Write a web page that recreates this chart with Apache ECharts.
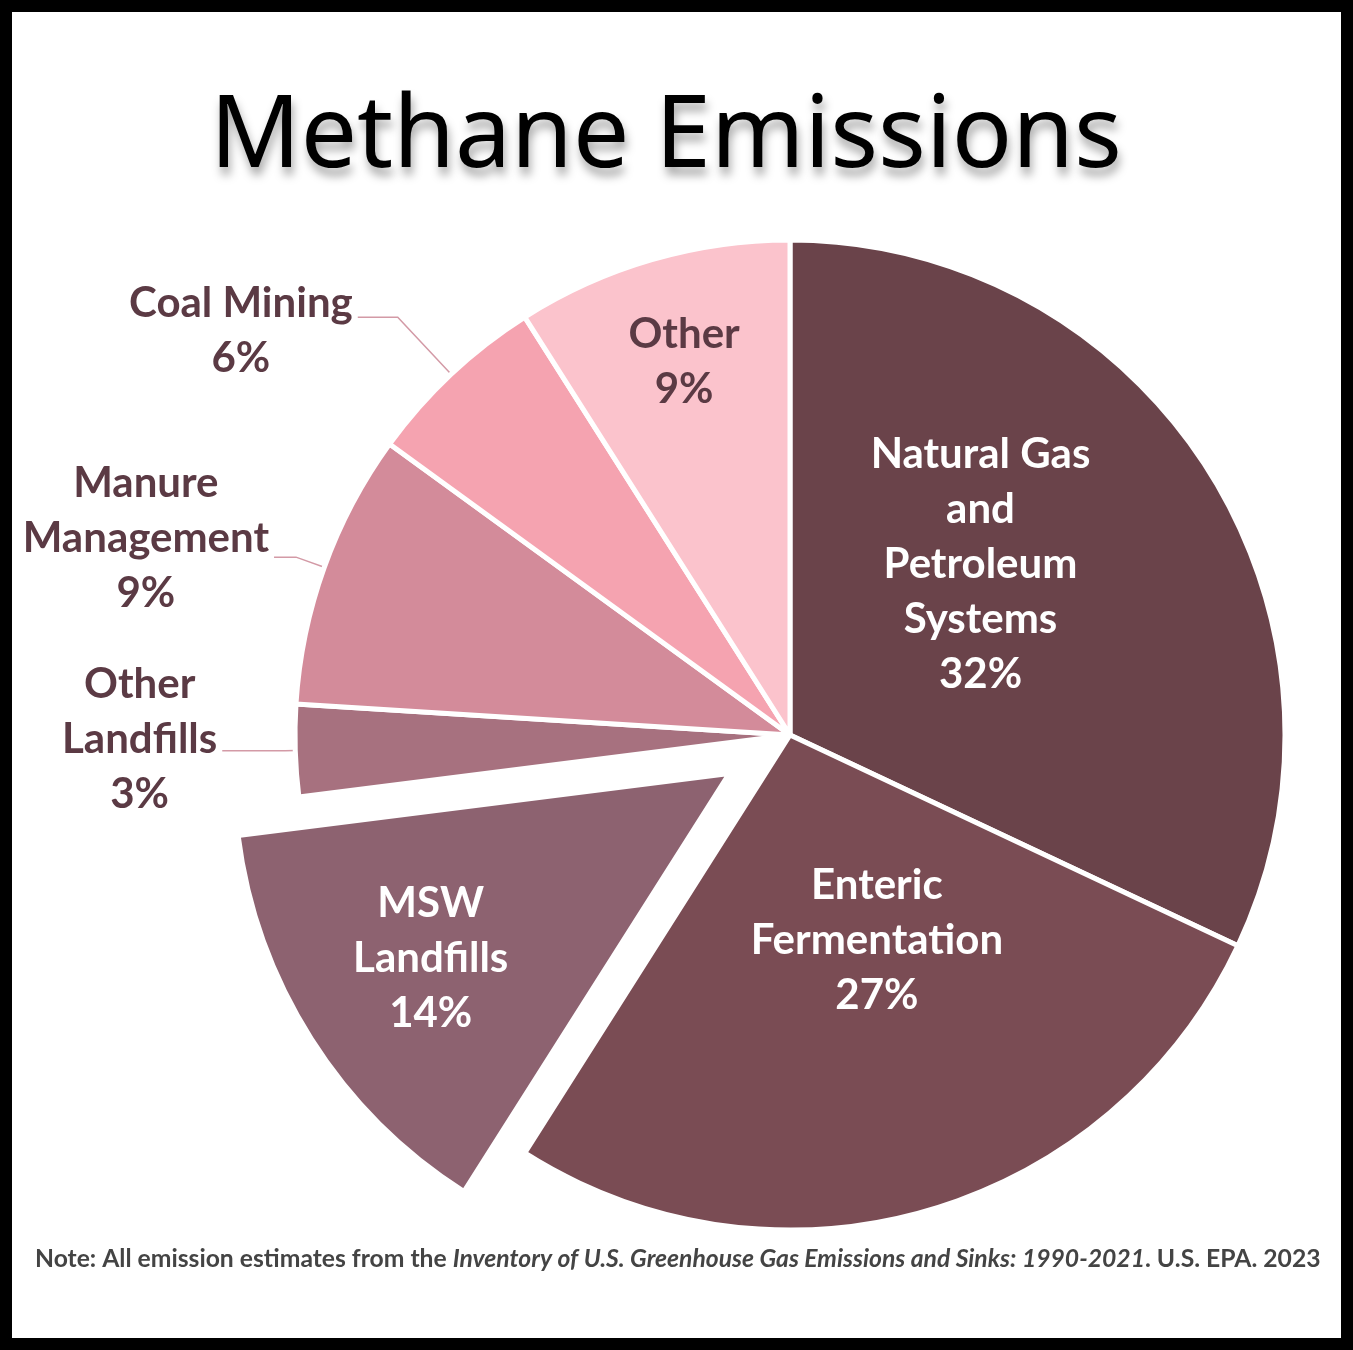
<!DOCTYPE html>
<html><head><meta charset="utf-8">
<script src="https://cdn.jsdelivr.net/npm/echarts@6/dist/echarts.min.js"></script>
<style>html,body{margin:0;padding:0;background:#fff}#c{width:1353px;height:1350px}</style>
</head><body><div id="c"></div>
<script>
const categories = ['Natural Gas and Petroleum Systems','Enteric Fermentation','MSW Landfills','Other Landfills','Manure Management','Coal Mining','Other'];
const labelNames = ['Natural Gas\nand\nPetroleum\nSystems','Enteric\nFermentation','MSW\nLandfills','Other\nLandfills','Manure\nManagement','Coal Mining','Other'];
const values = [32,27,14,3,9,6,9];
const colors = ['#6a434a','#7a4c54','#8d6270','#a7717f','#d38b9a','#f5a3b0','#fbc3cc'];
const titleText = 'Methane Emissions';
const noteParts = ['Note: All emission estimates from the ','Inventory of U.S. Greenhouse Gas Emissions and Sinks: 1990-2021','. U.S. EPA. 2023'];

// label styling / layout (not data)
const insideIdx = [0,1,2,6];
const labelColor = ['#ffffff','#ffffff','#ffffff','#5b3a44','#5b3a44','#5b3a44','#5b3a44'];
const insideShift = {0:[-21,-36],1:[17,-35],2:[-87,51],6:[-36,-132]};
const outsideCfg = {
  3:{len:10,len2:63,pad:[0,0,22,0]},
  4:{len:30,len2:22,pad:[0,0,38,0]},
  5:{len:78,len2:40,pad:[28,0,0,0]}
};

const data = categories.map((name,i)=>{
  const inside = insideIdx.indexOf(i) >= 0;
  const item = {name, value: values[i], itemStyle:{color: colors[i]}};
  if (inside) {
    item.label = {position:'inside', color: labelColor[i]};
    item.labelLine = {show:false};
  } else {
    const c = outsideCfg[i];
    item.label = {position:'outside', color: labelColor[i], padding: c.pad};
    item.labelLine = {show:true, length:c.len, length2:c.len2};
  }
  if (i === 2) item.selected = true;
  return item;
});

const chart = echarts.init(document.getElementById('c'), null, {renderer:'canvas'});
chart.setOption({
  backgroundColor:'#ffffff',
  animation:false,
  title:[{
    text: titleText,
    left: 210, top: 89, padding:0,
    textStyle:{fontFamily:'Noto Sans', fontWeight:'normal', fontSize:100, color:'#000',
      textShadowColor:'rgba(0,0,0,0.35)', textShadowBlur:10, textShadowOffsetX:2, textShadowOffsetY:8}
  },{
    text: '{n|'+noteParts[0]+'}{i|'+noteParts[1]+'}{n|'+noteParts[2]+'}',
    left: 35, top: 1247, padding:0,
    textStyle:{fontFamily:'Lato', fontSize:24.7, color:'#444',
      rich:{n:{fontFamily:'Lato', fontSize:24.7, color:'#444'}, i:{fontFamily:'Lato', fontSize:24.7, fontStyle:'italic', color:'#444'}}}
  }],
  graphic:[{type:'rect', z:100, silent:true, shape:{x:0,y:0,width:1353,height:1350},
    style:{fill:'none', stroke:'#000', lineWidth:24}}],
  series:[{
    type:'pie',
    center:[790,735],
    radius:[0,495],
    startAngle:90,
    clockwise:true,
    avoidLabelOverlap:false,
    selectedMode:'single',
    selectedOffset:72,
    emphasis:{disabled:true},
    itemStyle:{borderColor:'#ffffff', borderWidth:5},
    label:{
      show:true,
      fontFamily:'Lato', fontWeight:'bold', fontSize:42, lineHeight:55,
      formatter:p => labelNames[p.dataIndex].split('\n').map(s=>'{c|'+s+'}').join('\n') + '\n{c|' + p.value + '%}',
      rich:{c:{align:'center', fontFamily:'Lato', fontWeight:'bold', fontSize:42, lineHeight:55}}
    },
    labelLine:{smooth:false, lineStyle:{color:'#d39aa6', width:1.5}},
    labelLayout: p => {
      const s = insideShift[p.dataIndex];
      return s ? {dx:s[0], dy:s[1]} : {};
    },
    data
  }]
});
</script></body></html>
